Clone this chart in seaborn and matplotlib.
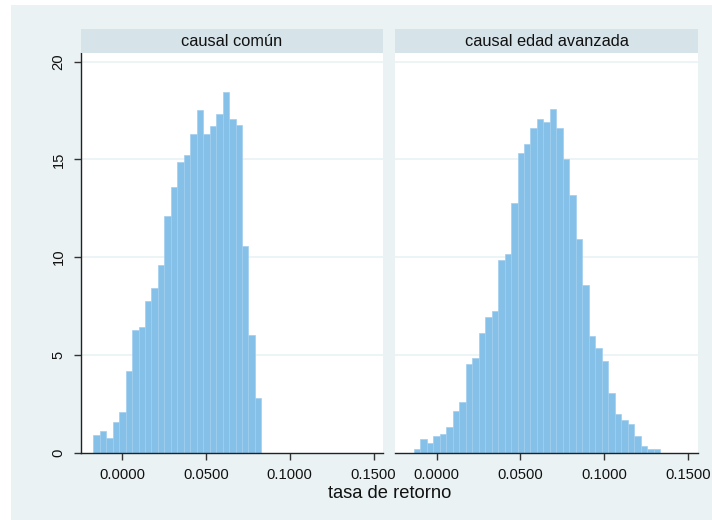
import numpy as np
import pandas as pd
import seaborn as sns
import matplotlib.pyplot as plt
from matplotlib.patches import Rectangle

sns.set_theme(style="white")
plt.rcParams['font.family'] = ['Liberation Sans', 'DejaVu Sans']

# ---- data (density per bin) ----
panels = ["causal común", "causal edad avanzada"]
comun_heights = [0.89, 1.12, 0.72, 1.57, 2.08, 4.19, 6.29, 6.41, 7.73, 8.40,
                 9.57, 12.10, 13.59, 14.86, 15.23, 16.32, 17.51, 16.32, 16.70,
                 17.31, 18.47, 17.09, 16.75, 10.56, 6.00, 2.79]
edad_heights = [0.17, 0.67, 0.51, 0.82, 0.97, 1.30, 2.12, 2.59, 4.52, 4.85,
                6.13, 6.95, 7.25, 9.85, 10.17, 12.75, 15.31, 15.78, 16.60,
                17.08, 16.91, 17.56, 16.60, 15.00, 13.20, 10.95, 8.55, 5.97,
                5.34, 4.68, 3.07, 1.96, 1.64, 1.47, 0.82, 0.32, 0.17, 0.17]
comun_start = -0.0173
edad_start = -0.01354
bin_width = 0.00386
x_ticks = [0.0, 0.05, 0.10, 0.15]
x_tick_labels = ["0.0000", "0.0500", "0.1000", "0.1500"]
y_ticks = [0, 5, 10, 15, 20]
x_label = "tasa de retorno"

BG = "#EAF2F3"
STRIP = "#D6E3E8"
BAR = "#85C0E9"
EDGE = "#A2CEEE"

W, H = 712, 520
fig = plt.figure(figsize=(W / 100, H / 100), dpi=100, facecolor="white")
fig.patches.append(Rectangle((11 / W, 0), 1 - 11 / W, 1 - 5 / H,
                             transform=fig.transFigure, facecolor=BG,
                             edgecolor="none", zorder=-10))

ax_bottom = 1 - 452.5 / H
ax_height = (452.5 - 52.7) / H
positions = [(80.7, 383.3), (395.0, 698.0)]
series = [(comun_heights, comun_start), (edad_heights, edad_start)]

for i, ((x0, x1), (heights, start), title) in enumerate(zip(positions, series, panels)):
    ax = fig.add_axes([x0 / W, ax_bottom, (x1 - x0) / W, ax_height])
    ax.set_facecolor("white")
    n = len(heights)
    centers = start + (np.arange(n) + 0.5) * bin_width
    df = pd.DataFrame({"x": centers, "w": heights})
    sns.histplot(data=df, x="x", weights="w", binwidth=bin_width,
                 binrange=(start, start + n * bin_width), stat="count",
                 color=BAR, alpha=1.0, edgecolor=EDGE, linewidth=0.5, ax=ax,
                 zorder=2)
    ax.set_xlim(-0.0248, 0.1558)
    ax.set_ylim(0, 20.46)
    for yv in y_ticks[1:]:
        ax.axhline(yv, color=BG, lw=1.2, zorder=1)
    ax.set_xticks(x_ticks)
    ax.set_xticklabels(x_tick_labels, fontsize=10.6, color="#111111")
    ax.set_xlabel("")
    ax.set_ylabel("")
    for s in ["top", "right"]:
        ax.spines[s].set_visible(False)
    ax.spines["bottom"].set_color("#222222")
    ax.spines["bottom"].set_linewidth(1.0)
    ax.tick_params(axis="x", direction="out", length=5, width=1,
                   color="#333333", pad=6, bottom=True)
    if i == 0:
        ax.spines["left"].set_color("#222222")
        ax.spines["left"].set_linewidth(1.0)
        ax.set_yticks(y_ticks)
        ax.set_yticklabels([str(v) for v in y_ticks], rotation=90,
                           va="center", fontsize=10.6, color="#111111")
        ax.tick_params(axis="y", direction="out", length=5, width=1,
                       color="#333333", pad=6, left=True)
    else:
        ax.spines["left"].set_visible(False)
        ax.set_yticks([])
    # strip
    sax = fig.add_axes([x0 / W, 1 - 52.7 / H, (x1 - x0) / W, (52.7 - 29.3) / H])
    sax.set_facecolor(STRIP)
    sax.set_xticks([])
    sax.set_yticks([])
    for s in sax.spines.values():
        s.set_visible(False)
    sax.text(0.5, 0.5, title, ha="center", va="center", fontsize=11.8,
             color="#111111", transform=sax.transAxes)

fig.text(390 / W, 1 - 494 / H, x_label, ha="center", va="center",
         fontsize=13.2, color="#111111")

fig.savefig("out.png", dpi=100, facecolor="white")
